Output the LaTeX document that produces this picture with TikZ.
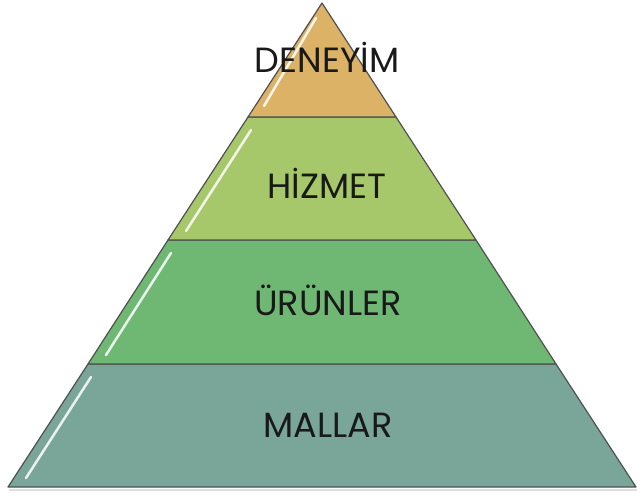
\documentclass[tikz,border=0pt]{standalone}
\usepackage{fontspec}
\setmainfont{Poppins}
\definecolor{cTop}{RGB}{220,178,102}
\definecolor{cTwo}{RGB}{166,200,106}
\definecolor{cThree}{RGB}{111,184,116}
\definecolor{cFour}{RGB}{121,166,152}
\definecolor{cEdge}{RGB}{80,80,80}
\begin{document}
\begin{tikzpicture}[x=1pt,y=-1pt,
  band/.style={draw=cEdge,line width=1.2pt,line join=round},
  gloss/.style={white,line width=2.5pt,line cap=round,opacity=0.85},
  lbl/.style={font=\fontsize{35}{40}\selectfont,text=black!90}]
\useasboundingbox (0,0) rectangle (640,496);
% shadow
\fill[black!25,opacity=0.5] (9,489) -- (637,489) -- (637,491) -- (9,491) -- cycle;
\path[band,fill=cFour]   (88,364) -- (556,364) -- (636,487) -- (8,487) -- cycle;
\path[band,fill=cThree]  (168,240) -- (476,240) -- (556,364) -- (88,364) -- cycle;
\path[band,fill=cTwo]    (248,117) -- (396,117) -- (476,240) -- (168,240) -- cycle;
\path[band,fill=cTop]    (322,3) -- (396,117) -- (248,117) -- cycle;
% glossy highlights
\draw[gloss] (91,377) -- (26,478);
\draw[gloss] (171,253) -- (106,355);
\draw[gloss] (251,130) -- (186,231);
\draw[gloss] (316,18) -- (264,106);
\node[lbl] (deneyim) at (327,57) {DENEYİM};
\node[lbl] (hizmet) at (327,183) {HİZMET};
\node[lbl] (urunler) at (328,300) {ÜRÜNLER};
\node[lbl] (mallar) at (328,425) {MALLAR};
\end{tikzpicture}
\end{document}
